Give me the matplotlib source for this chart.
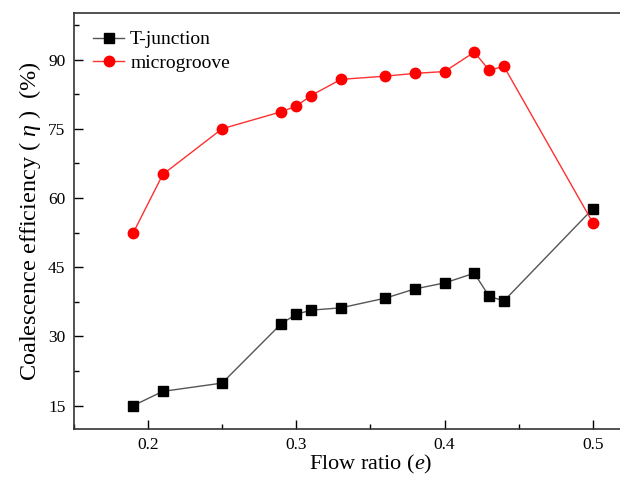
import matplotlib
matplotlib.use("Agg")
import matplotlib.pyplot as plt
from matplotlib.ticker import MultipleLocator

# flow ratio e
flow_ratio = [0.19, 0.21, 0.25, 0.29, 0.30, 0.31, 0.33, 0.36, 0.38, 0.40, 0.42, 0.43, 0.44, 0.50]

# coalescence efficiency (%)
t_junction = [15.0, 18.1, 19.9, 32.8, 34.8, 35.7, 36.2, 38.3, 40.3, 41.6, 43.7, 38.7, 37.7, 57.7]
microgroove = [52.4, 65.1, 75.0, 78.7, 79.9, 82.2, 85.7, 86.4, 87.0, 87.4, 91.6, 87.7, 88.5, 54.6]

x_ticks = [0.2, 0.3, 0.4, 0.5]
y_ticks = [15, 30, 45, 60, 75, 90]

plt.rcParams['font.family'] = ['Liberation Serif', 'DejaVu Serif']
plt.rcParams['mathtext.fontset'] = 'custom'
plt.rcParams['mathtext.rm'] = 'Liberation Serif'
plt.rcParams['mathtext.it'] = 'Liberation Serif:italic'

fig = plt.figure(figsize=(6.2, 4.78), dpi=100)
# right spine lies outside the picture in the reference (cropped)
ax = fig.add_axes([0.119, 0.103, 0.957, 0.869])

ax.plot(flow_ratio, t_junction, color='#555555', lw=1.0, marker='s',
        ms=7, mfc='black', mec='black', label='T-junction')
ax.plot(flow_ratio, microgroove, color='#ff3030', lw=1.0, marker='o',
        ms=7.5, mfc='red', mec='red', label='microgroove')

ax.set_xlim(0.15, 0.55)
ax.set_ylim(10, 100)
ax.set_xticks(x_ticks)
ax.set_xticklabels(['0.2', '0.3', '0.4', '0.5'])
ax.set_yticks(y_ticks)
ax.xaxis.set_minor_locator(MultipleLocator(0.05))
ax.yaxis.set_minor_locator(MultipleLocator(7.5))
ax.tick_params(which='major', direction='in', length=6.5, width=1.0, labelsize=12.5, pad=6)
ax.tick_params(which='minor', direction='in', length=3.5, width=1.0)
for sp in ax.spines.values():
    sp.set_linewidth(1.2)
    sp.set_color('#333333')

ax.set_xlabel('Flow ratio ($\\it{e}$)', fontsize=16, labelpad=0)
ax.set_ylabel('Coalescence efficiency ( $\\it{\\eta}$ )  (%)', fontsize=17.5, labelpad=4)

ax.legend(loc='upper left', bbox_to_anchor=(0.0, 1.005), frameon=False, fontsize=14,
          handlelength=1.6, handletextpad=0.3, borderaxespad=0.6, labelspacing=0.3)

fig.savefig('out.png', dpi=100)
